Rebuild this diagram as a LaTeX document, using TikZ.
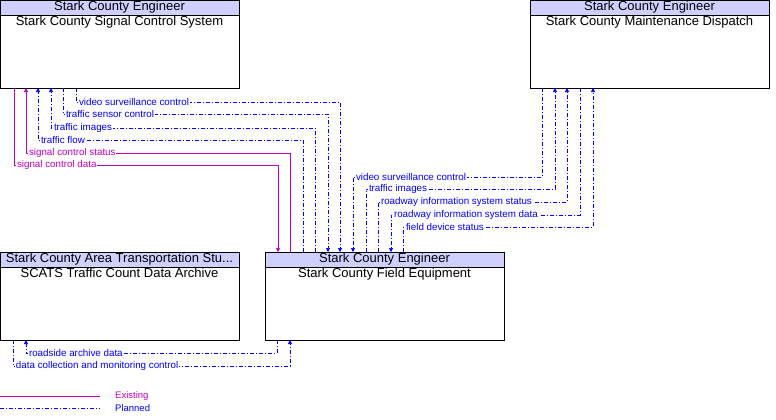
\documentclass[tikz,border=0pt]{standalone}
\usepackage{fontspec}
\setmainfont{Liberation Sans}
\usetikzlibrary{arrows.meta}
\definecolor{hdr}{RGB}{208,208,255}
\definecolor{ex}{RGB}{192,0,192}
\definecolor{pl}{RGB}{0,0,255}
\begin{document}
\begin{tikzpicture}[x=1pt,y=-1pt,
  box/.style={draw=black,line width=0.8pt},
  hd/.style={draw=black,line width=0.8pt,fill=hdr},
  ttl/.style={font=\fontsize{13}{14}\selectfont,inner sep=0pt,anchor=north},
  exl/.style={draw=ex,line width=0.7pt},
  pll/.style={draw=pl,line width=0.7pt,dash pattern=on 4pt off 2pt on 1pt off 2pt},
  arr/.style={-{Triangle[length=4pt,width=4pt]}},
  lb/.style={font=\fontsize{9.8}{10}\selectfont,fill=white,inner sep=0.8pt,anchor=west},
  lbe/.style={lb,text=ex},lbp/.style={lb,text=pl}]
\useasboundingbox (0,0) rectangle (776,420);
% boxes
\newcommand{\mybox}[5]{%
 \draw[box,fill=white] (#1,#2) rectangle (#1+239,#2+88);
 \draw[hd] (#1,#2) rectangle (#1+239,#2+15);
 \node[ttl] at (#1+119.5,#2+0.5) {#3};
 \node[ttl] at (#1+119.5,#2+15.5) {#4};
 \coordinate (#5) at (#1,#2);}
\mybox{0}{0}{Stark County Engineer}{Stark County Signal Control System}{scs}
\mybox{530}{0}{Stark County Engineer}{Stark County Maintenance Dispatch}{md}
\mybox{0}{252}{Stark County Area Transportation Stu...}{SCATS Traffic Count Data Archive}{sa}
\mybox{265}{252}{Stark County Engineer}{Stark County Field Equipment}{fe}
% SCS <-> FE
\draw[exl,arr] (14,88) |- (278,165) -- (278,252);
\node[lbe] at (16,165) {signal control data};
\draw[exl,arr] (290,252) |- (26,153) -- (26,88);
\node[lbe] at (28,153) {signal control status};
\draw[pll,arr] (303,252) |- (38,140) -- (38,88);
\node[lbp] at (40,140) {traffic flow};
\draw[pll,arr] (315,252) |- (51,128) -- (51,88);
\node[lbp] at (53,128) {traffic images};
\draw[pll,arr] (63,88) |- (328,114) -- (328,252);
\node[lbp] at (65,114) {traffic sensor control};
\draw[pll,arr] (76,88) |- (340,102) -- (340,252);
\node[lbp] at (78,102) {video surveillance control};
% MD <-> FE
\draw[pll,arr] (542,88) |- (353,177) -- (353,252);
\node[lbp] at (355,177) {video surveillance control};
\draw[pll,arr] (366,252) |- (555,189) -- (555,88);
\node[lbp] at (368,189) {traffic images};
\draw[pll,arr] (378,252) |- (567,202) -- (567,88);
\node[lbp] at (380,202) {roadway information system status};
\draw[pll,arr] (580,88) |- (391,215) -- (391,252);
\node[lbp] at (393,215) {roadway information system data};
\draw[pll,arr] (403,252) |- (593,227) -- (593,88);
\node[lbp] at (405,227) {field device status};
% FE <-> SCATS
\draw[pll,arr] (277,340) |- (26,353) -- (26,340);
\node[lbp] at (28,353) {roadside archive data};
\draw[pll,arr] (13,340) |- (290,366) -- (290,340);
\node[lbp] at (15,366) {data collection and monitoring control};
% legend
\coordinate (l1a) at (0,396); \coordinate (l1b) at (100,396);
\coordinate (l2a) at (0,408); \coordinate (l2b) at (100,408);
\draw[exl] (l1a) -- (l1b);
\draw[pll] (l2a) -- (l2b);
\node[font=\fontsize{9.5}{10}\selectfont,text=ex,anchor=west,inner sep=0pt] at (115,396) {Existing};
\node[font=\fontsize{9.5}{10}\selectfont,text=pl,anchor=west,inner sep=0pt] at (115,408) {Planned};
\end{tikzpicture}
\end{document}
